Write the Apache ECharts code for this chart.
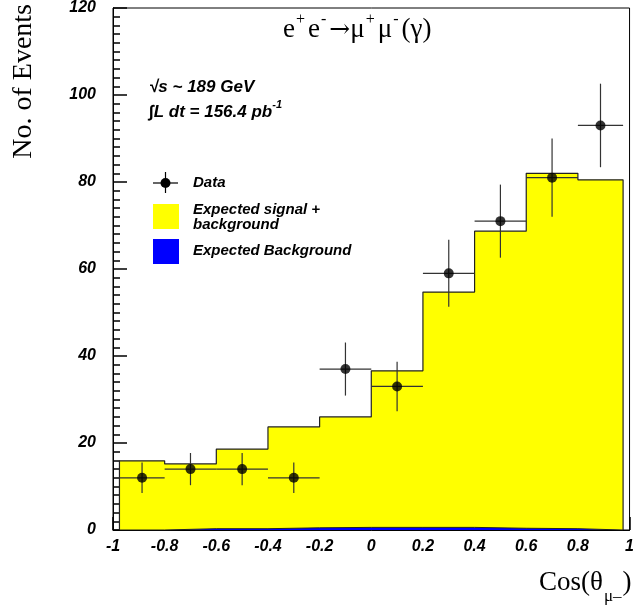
<!DOCTYPE html>
<html><head><meta charset="utf-8">
<script src="https://cdn.jsdelivr.net/npm/echarts@6/dist/echarts.min.js"></script>
<style>html,body{margin:0;padding:0;background:#fff}#c{width:637px;height:606px}</style>
</head><body><div id="c"></div>
<script>
// ---- data ----
const binEdges = [-0.975, -0.8, -0.6, -0.4, -0.2, 0, 0.2, 0.4, 0.6, 0.8, 0.975];
const expectedTotal = [15.9, 15.2, 18.6, 23.7, 26.0, 36.6, 54.7, 68.7, 82.0, 80.5];
const expectedBkg = [0, 0.3, 0.3, 0.5, 0.6, 0.6, 0.6, 0.4, 0.3, 0];
const dataX = [-0.8875, -0.7, -0.5, -0.3, -0.1, 0.1, 0.3, 0.5, 0.7, 0.8875];
const dataY = [12, 14, 14, 12, 37, 33, 59, 71, 81, 93];
const dataErr = [3.5, 3.7, 3.7, 3.5, 6.1, 5.7, 7.7, 8.4, 9.0, 9.6];
const xMin = -1, xMax = 1, xStep = 0.2;
const yMin = 0, yMax = 120, yStep = 20;

function stepPoints(vals) {
  const pts = [[binEdges[0], 0]];
  for (let i = 0; i < vals.length; i++) {
    pts.push([binEdges[i], vals[i]], [binEdges[i + 1], vals[i]]);
  }
  pts.push([binEdges[vals.length], 0]);
  return pts;
}
const errData = dataX.map((x, i) => [x, dataY[i], dataErr[i], binEdges[i], binEdges[i + 1]]);

const chart = echarts.init(document.getElementById('c'), null, {renderer: 'canvas'});
const tickFont = {fontFamily: 'Liberation Sans', fontWeight: 'bold', fontStyle: 'italic', fontSize: 16, color: '#000'};
const serif = 'Liberation Serif';
const lgFont = 'bold italic 15px "Liberation Sans"';
const anFont = 'bold italic 17px "Liberation Sans"';

chart.setOption({
  animation: false,
  grid: {left: 113, right: 4, top: 8, bottom: 76, show: true, borderColor: '#000', borderWidth: 1, backgroundColor: 'transparent'},
  xAxis: {
    type: 'value', min: xMin, max: xMax, interval: xStep,
    axisLine: {show: true, onZero: false, lineStyle: {color: '#000', width: 1}},
    axisTick: {show: true, inside: true, length: 13, lineStyle: {color: '#000', width: 1.5}},
    minorTick: {show: true, splitNumber: 2, length: 7, lineStyle: {color: '#000', width: 1.5}},
    splitLine: {show: false},
    axisLabel: Object.assign({margin: 9}, tickFont)
  },
  yAxis: {
    type: 'value', min: yMin, max: yMax, interval: yStep,
    axisLine: {show: true, onZero: false, lineStyle: {color: '#000', width: 1}},
    axisTick: {show: true, inside: true, length: 14, lineStyle: {color: '#000', width: 1.5}},
    minorTick: {show: true, splitNumber: 10, length: 7, lineStyle: {color: '#000', width: 1.5}},
    splitLine: {show: false},
    axisLabel: Object.assign({margin: 17}, tickFont)
  },
  series: [
    {
      type: 'line', data: stepPoints(expectedTotal), symbol: 'none', z: 1,
      lineStyle: {color: '#222', width: 1.2},
      areaStyle: {color: '#ffff00', opacity: 1}
    },
    {
      type: 'line', data: stepPoints(expectedBkg), symbol: 'none', z: 2,
      lineStyle: {color: '#222', width: 1},
      areaStyle: {color: '#0000ff', opacity: 1}
    },
    {
      type: 'custom', z: 3, data: errData,
      renderItem: function (params, api) {
        const x = api.value(0), y = api.value(1), e = api.value(2);
        const lo = api.coord([api.value(3), y]);
        const hi = api.coord([api.value(4), y]);
        const top = api.coord([x, y + e]);
        const bot = api.coord([x, y - e]);
        const st = {stroke: '#333', lineWidth: 1.2};
        return {type: 'group', children: [
          {type: 'line', shape: {x1: lo[0], y1: lo[1], x2: hi[0], y2: hi[1]}, style: st},
          {type: 'line', shape: {x1: top[0], y1: top[1], x2: bot[0], y2: bot[1]}, style: st}
        ]};
      }
    },
    {
      type: 'scatter', z: 4, data: dataX.map((x, i) => [x, dataY[i]]),
      symbol: 'circle', symbolSize: 10, itemStyle: {color: '#000'}
    }
  ],
  graphic: [
    // y axis name
    {type: 'text', left: 10, top: 4, rotation: Math.PI / 2,
      style: {text: 'No. of Events', font: '28px "Liberation Serif"', fill: '#000'}},
    // x axis name
    {type: 'text', x: 539, y: 569,
      style: {text: '{n|Cos(θ}{s|μ–}{n|)}', fill: '#000',
        rich: {n: {fontFamily: serif, fontSize: 27, verticalAlign: 'top', lineHeight: 36},
               s: {fontFamily: serif, fontSize: 17, verticalAlign: 'bottom', lineHeight: 36, padding: [0, 1, 0, 1]}}}},
    // title
    {type: 'text', x: 283, y: 12,
      style: {text: '{n|e}{p|+}{n|e}{p|-}{a|→}{n|μ}{p|+}{n|μ}{p|-}{n|(γ)}', fill: '#000',
        rich: {n: {fontFamily: serif, fontSize: 27, verticalAlign: 'bottom', lineHeight: 31},
               a: {fontFamily: 'DejaVu Serif', fontSize: 25, verticalAlign: 'bottom', lineHeight: 31},
               p: {fontFamily: serif, fontSize: 16, verticalAlign: 'top', lineHeight: 31, padding: [0, 3, 0, 1]}}}},
    // annotations
    {type: 'text', x: 149, y: 79,
      style: {text: '√s ~ 189 GeV', font: anFont, fill: '#000'}},
    {type: 'text', x: 149, y: 99,
      style: {text: '{n|∫L dt = 156.4 pb}{p|-1}', fill: '#000',
        rich: {n: {fontFamily: 'Liberation Sans', fontWeight: 'bold', fontStyle: 'italic', fontSize: 17, verticalAlign: 'bottom', lineHeight: 22},
               p: {fontFamily: 'Liberation Sans', fontWeight: 'bold', fontStyle: 'italic', fontSize: 11, verticalAlign: 'top', lineHeight: 22}}}},
    // legend: data
    {type: 'line', shape: {x1: 153, y1: 183, x2: 178, y2: 183}, style: {stroke: '#000', lineWidth: 1.2}},
    {type: 'line', shape: {x1: 165.5, y1: 172, x2: 165.5, y2: 193}, style: {stroke: '#000', lineWidth: 1.2}},
    {type: 'circle', shape: {cx: 165.5, cy: 183, r: 5}, style: {fill: '#000'}},
    {type: 'text', x: 193, y: 175, style: {text: 'Data', font: lgFont, fill: '#000'}},
    // legend: yellow
    {type: 'rect', shape: {x: 153, y: 204, width: 26, height: 25}, style: {fill: '#ffff00'}},
    {type: 'text', x: 193, y: 202, style: {text: 'Expected signal +\nbackground', font: lgFont, fill: '#000', lineHeight: 15}},
    // legend: blue
    {type: 'rect', shape: {x: 153, y: 239, width: 26, height: 25}, style: {fill: '#0000ff'}},
    {type: 'text', x: 193, y: 243, style: {text: 'Expected Background', font: lgFont, fill: '#000'}}
  ]
});
</script>
</body></html>
